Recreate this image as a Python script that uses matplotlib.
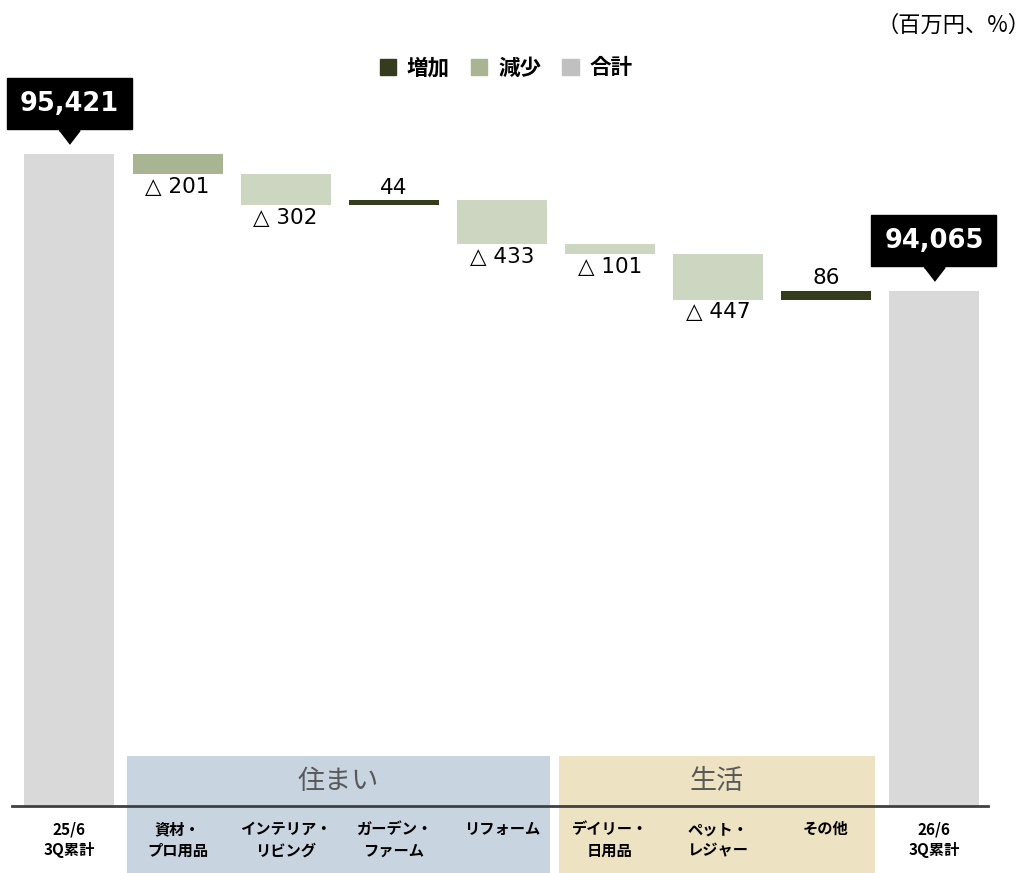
import numpy as np
import matplotlib.pyplot as plt
from matplotlib.patches import Patch, Rectangle
from matplotlib.transforms import ScaledTranslation, blended_transform_factory

# data
labels = ['25/6\n3Q累計', '資材・\nプロ用品', 'インテリア・\nリビング', 'ガーデン・\nファーム',
          'リフォーム', 'デイリー・\n日用品', 'ペット・\nレジャー', 'その他', '26/6\n3Q累計']
start_total = 95421
end_total = 94065
changes = [-201, -302, 44, -433, -101, -447, 86]
groups = ['住まい', '生活']
group_members = [(1, 4), (5, 7)]
legend_labels = ['増加', '減少', '合計']

# style
JP = ['Noto Sans CJK JP', 'DejaVu Sans']
c_total = '#D9D9D9'
c_up = '#353C1E'
c_down = '#CCD6C1'
c_down_hi = '#A8B492'
c_groups = ['#C8D4E0', '#EDE3C2']
ybase = 88968
ytop = 96946
w = 0.833

fig = plt.figure(figsize=(10.31, 8.73), dpi=100)
ax = fig.add_axes([0, 67 / 873, 1, 806 / 873])
ax.set_xlim(-0.643, 8.898)
ax.set_ylim(ybase, ytop)

# totals
n = len(labels)
ax.bar([0, n - 1], [start_total, end_total], width=w, color=c_total, zorder=2)

# changes
level = start_total
for i, c in enumerate(changes):
    x = i + 1
    if c < 0:
        bottom, h = level + c, -c
        col = c_down_hi if i == 0 else c_down
    else:
        bottom, h = level, c
        col = c_up
    ax.bar(x, h, bottom=bottom, width=w, color=col, zorder=2)
    if c < 0:
        ax.annotate('△ {:,}'.format(-c), (x, bottom), xytext=(0, -2),
                    textcoords='offset points', ha='center', va='top',
                    fontsize=15.5, family='DejaVu Sans')
    else:
        ax.annotate('{:,}'.format(c), (x, bottom + h), xytext=(0, 2),
                    textcoords='offset points', ha='center', va='bottom',
                    fontsize=15.5, family='DejaVu Sans')
    level += c

# callouts for totals
tri = [(-1, 0.65), (1, 0.65), (0, -0.65)]
for x, v in [(0, start_total), (n - 1, end_total)]:
    ax.annotate('{:,}'.format(v), (x, v), xytext=(0, 36.4), textcoords='offset points',
                ha='center', va='center', fontsize=18.5, fontweight='bold', color='white',
                family='DejaVu Sans',
                bbox=dict(boxstyle='square,pad=0.5', fc='black', ec='black'))
    ax.plot(x, v, marker=tri, ms=15, color='black', clip_on=False,
            transform=ax.transData + ScaledTranslation(0, 12.6 / 72, fig.dpi_scale_trans))

# group bands
blend = blended_transform_factory(ax.transData, ax.transAxes)
for g, (a, b), col in zip(groups, group_members, c_groups):
    x0, x1 = a - 0.472, b + 0.45
    ax.add_patch(Rectangle((x0, -0.09), x1 - x0, 0.152, transform=blend,
                           facecolor=col, edgecolor='none', clip_on=False, zorder=0))
    ax.text((x0 + x1) / 2, 0.031, g, transform=blend, ha='center', va='center',
            fontsize=19.5, color='#595959', family=JP, zorder=3)

ax.axhline(ybase, xmin=12 / 1031, xmax=988 / 1031, color='#404040', lw=2,
           clip_on=False, zorder=4)

ax.set_xticks(range(n))
ax.set_xticklabels(labels, fontsize=11, fontweight='bold', family=JP, linespacing=1.4)
ax.tick_params(axis='x', length=0, pad=11)
ax.set_yticks([])
for s in ax.spines.values():
    s.set_visible(False)

handles = [Patch(color=c_up), Patch(color=c_down_hi), Patch(color='#C0C0C0')]
fig.legend(handles, legend_labels, loc='center', bbox_to_anchor=(506 / 1031, 1 - 68 / 873),
           ncol=3, frameon=False, prop=dict(family=JP, weight='bold', size=15.5),
           handlelength=0.75, handleheight=0.75, handletextpad=0.5, columnspacing=1.0)

fig.text(1031 / 1031, 1 - 25 / 873, '（百万円、%）', ha='right', va='center',
         fontsize=16, family=JP)

fig.savefig('out.png', dpi=100)
